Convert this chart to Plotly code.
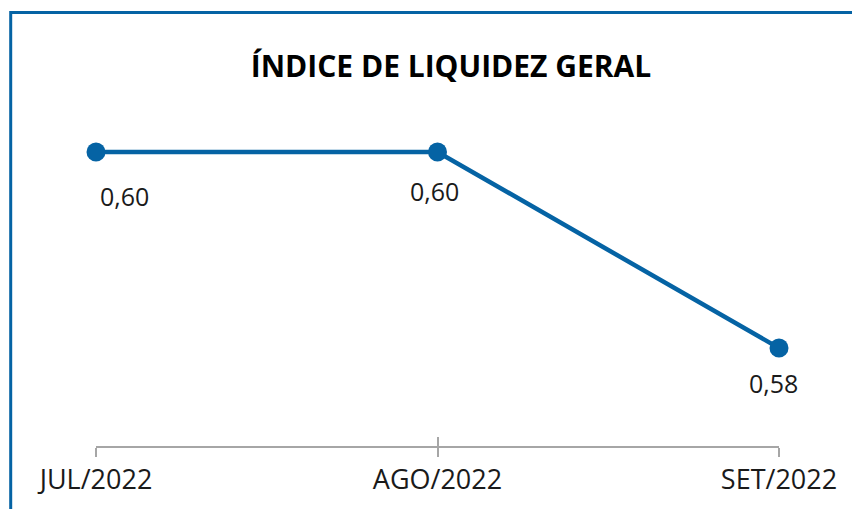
import plotly.graph_objects as go

categories = ["JUL/2022", "AGO/2022", "SET/2022"]
values = [0.60, 0.60, 0.58]
value_labels = ["0,60", "0,60", "0,58"]
label_shift_x = [28, -3, -6]
label_shift_y = [-44, -39, -35]

BLUE = "#0563A4"
OFF = 8  # page body margin
W, H = 860, 509
ml, mr, mt, mb = 96 - OFF, 860 - 779 + OFF, 100 - OFF, 63 + OFF
pw = W - ml - mr
ph = H - mt - mb

fig = go.Figure()
fig.add_trace(go.Scatter(
    x=categories, y=values, mode="lines+markers",
    line=dict(color=BLUE, width=4.5),
    marker=dict(color=BLUE, size=19),
    cliponaxis=False, hoverinfo="skip", showlegend=False,
))
fig.add_trace(go.Scatter(
    x=categories, y=values, mode="markers", xaxis="x2",
    marker=dict(opacity=0), hoverinfo="skip", showlegend=False,
))

for c, v, t, dx, dy in zip(categories, values, value_labels, label_shift_x, label_shift_y):
    fig.add_annotation(x=c, y=v, text=t, showarrow=False, xshift=dx, yshift=dy,
                       xanchor="center", yanchor="middle",
                       font=dict(family="Open Sans", size=25, color="#1a1a1a"))

# frame (left & top visible)
bx = (10.7 - OFF - ml) / pw
by = (H - mb - (12.5 - OFF)) / ph
fig.add_shape(type="rect", xref="paper", yref="paper",
              x0=bx, x1=1.5, y0=-0.5, y1=by,
              line=dict(color=BLUE, width=3), layer="above")

ymin = 0.57
ymax = ymin + ph / 9800

fig.update_layout(
    width=W, height=H,
    margin=dict(l=ml, r=mr, t=mt, b=mb),
    paper_bgcolor="white", plot_bgcolor="white",
    title=dict(text="<b>ÍNDICE DE LIQUIDEZ GERAL</b>", xref="paper", x=(451 - OFF - ml) / pw,
               xanchor="center", yref="container", y=1 - (66 - OFF) / H, yanchor="middle",
               font=dict(family="Open Sans", size=30, color="#000000")),
    xaxis=dict(type="category", range=[0, 2], showgrid=False, zeroline=False,
               showline=True, linecolor="#A6A6A6", linewidth=2,
               ticks="outside", ticklen=9, tickwidth=1.5, tickcolor="#A6A6A6",
               tickfont=dict(family="Open Sans", size=27, color="#1a1a1a")),
    xaxis2=dict(type="category", range=[0, 2], overlaying="x", matches="x", side="bottom",
                showgrid=False, zeroline=False, showline=False,
                ticks="inside", ticklen=9, tickwidth=1.5, tickcolor="#A6A6A6",
                showticklabels=False),
    yaxis=dict(range=[ymin, ymax], visible=False, showgrid=False, zeroline=False),
)

fig.write_html("out.html")
